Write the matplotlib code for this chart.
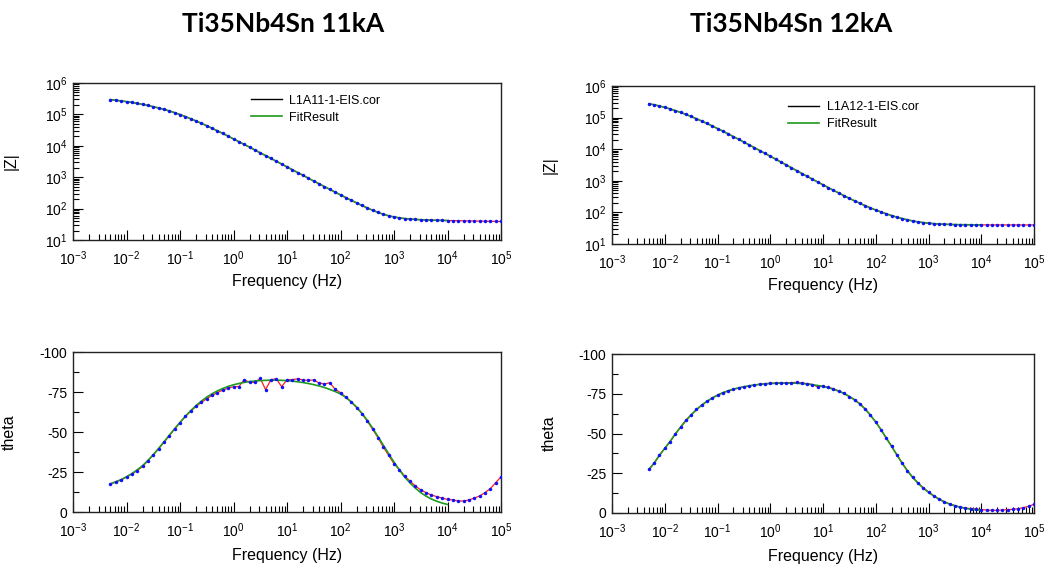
import numpy as np
import matplotlib
matplotlib.use("Agg")
import matplotlib.pyplot as plt
from matplotlib.ticker import LogLocator, FixedLocator, NullFormatter
from matplotlib.lines import Line2D

plt.rcParams['font.family'] = ['Liberation Sans', 'DejaVu Sans']
plt.rcParams['mathtext.fontset'] = 'custom'
plt.rcParams['mathtext.rm'] = 'Liberation Sans'
plt.rcParams['mathtext.it'] = 'Liberation Sans:italic'
plt.rcParams['axes.unicode_minus'] = False

# ---------------------------------------------------------------- data
freq = [
    5.01e-3, 6.31e-3, 7.94e-3,
    1.00e-2, 1.26e-2, 1.58e-2, 2.00e-2, 2.51e-2, 3.16e-2, 3.98e-2, 5.01e-2, 6.31e-2, 7.94e-2,
    1.00e-1, 1.26e-1, 1.58e-1, 2.00e-1, 2.51e-1, 3.16e-1, 3.98e-1, 5.01e-1, 6.31e-1, 7.94e-1,
    1.00e0, 1.26e0, 1.58e0, 2.00e0, 2.51e0, 3.16e0, 3.98e0, 5.01e0, 6.31e0, 7.94e0,
    1.00e1, 1.26e1, 1.58e1, 2.00e1, 2.51e1, 3.16e1, 3.98e1, 5.01e1, 6.31e1, 7.94e1,
    1.00e2, 1.26e2, 1.58e2, 2.00e2, 2.51e2, 3.16e2, 3.98e2, 5.01e2, 6.31e2, 7.94e2,
    1.00e3, 1.26e3, 1.58e3, 2.00e3, 2.51e3, 3.16e3, 3.98e3, 5.01e3, 6.31e3, 7.94e3,
    1.00e4, 1.26e4, 1.58e4, 2.00e4, 2.51e4, 3.16e4, 3.98e4, 5.01e4, 6.31e4, 7.94e4,
    1.00e5,
]

# log10 |Z| (ohm), 11 kA sample
logz_11kA = [
    5.47, 5.45, 5.43,
    5.405, 5.38, 5.35, 5.32, 5.285, 5.245, 5.205, 5.16, 5.11, 5.055,
    4.995, 4.93, 4.862, 4.79, 4.715, 4.638, 4.558, 4.476, 4.392, 4.307,
    4.22, 4.132, 4.044, 3.955, 3.866, 3.777, 3.688, 3.598, 3.508, 3.418,
    3.328, 3.238, 3.148, 3.058, 2.968, 2.878, 2.789, 2.70, 2.612, 2.524,
    2.437, 2.35, 2.265, 2.182, 2.10, 2.022, 1.948, 1.88, 1.82, 1.772,
    1.734, 1.705, 1.683, 1.667, 1.655, 1.646, 1.639, 1.633, 1.628, 1.624,
    1.62, 1.617, 1.614, 1.611, 1.608, 1.605, 1.602, 1.599, 1.596, 1.593,
    1.59,
]

# phase angle (deg), 11 kA sample
phase_11kA = [
    -17.7, -19.0, -20.2,
    -21.9, -23.8, -25.8, -28.5, -32.0, -35.6, -39.6, -43.5, -47.7, -52.0,
    -55.8, -59.8, -63.0, -66.0, -68.5, -70.8, -72.9, -74.6, -76.2, -77.4,
    -78.3, -78.4, -82.7, -81.0, -81.0, -83.5, -76.5, -82.7, -83.3, -78.3,
    -82.7, -82.7, -83.3, -82.5, -82.3, -82.5, -80.6, -80.0, -80.8, -76.7,
    -74.6, -71.7, -68.8, -65.2, -61.5, -56.9, -51.7, -46.5, -40.6, -35.4,
    -30.2, -26.5, -22.5, -19.2, -16.3, -13.8, -12.1, -10.6, -9.6, -8.7,
    -7.9, -7.5, -6.9, -6.9, -7.5, -8.7, -10.0, -12.1, -14.6, -18.3,
    -22.0,
]

# fitted phase (deg), 11 kA sample, 5 mHz .. 10 kHz
phase_fit_11kA = [
    -17.5, -18.8, -20.2,
    -22.0, -24.0, -26.3, -29.0, -32.2, -35.8, -39.7, -43.8, -48.0, -52.0,
    -56.0, -59.8, -63.3, -66.5, -69.3, -71.8, -73.9, -75.7, -77.2, -78.5,
    -79.5, -80.3, -81.0, -81.5, -81.9, -82.1, -82.3, -82.4, -82.4, -82.3,
    -82.1, -81.8, -81.4, -80.9, -80.3, -79.6, -78.8, -77.8, -76.6, -75.3,
    -73.8, -71.6, -68.9, -65.6, -61.7, -57.3, -52.4, -47.2, -41.8, -36.4,
    -31.2, -26.3, -21.9, -18.1, -14.9, -12.1, -9.9, -8.1, -6.7, -5.6,
    -4.7,
]

# log10 |Z| (ohm), 12 kA sample
logz_12kA = [
    5.44, 5.405, 5.367,
    5.323, 5.275, 5.222, 5.164, 5.102, 5.035, 4.965, 4.891, 4.814, 4.735,
    4.654, 4.571, 4.486, 4.40, 4.313, 4.225, 4.137, 4.048, 3.958, 3.868,
    3.777, 3.687, 3.596, 3.505, 3.414, 3.322, 3.231, 3.141, 3.051, 2.962,
    2.873, 2.785, 2.698, 2.612, 2.527, 2.445, 2.365, 2.287, 2.212, 2.142,
    2.076, 2.014, 1.955, 1.90, 1.85, 1.805, 1.765, 1.73, 1.70, 1.677,
    1.658, 1.644, 1.633, 1.625, 1.619, 1.615, 1.612, 1.61, 1.608, 1.607,
    1.606, 1.605, 1.605, 1.604, 1.604, 1.604, 1.604, 1.603, 1.603, 1.603,
    1.603,
]

# phase angle (deg), 12 kA sample
phase_12kA = [
    -27.5, -31.3, -36.4,
    -40.6, -44.8, -49.7, -54.1, -58.4, -61.7, -65.1, -67.9, -70.2, -72.3,
    -74.2, -75.7, -76.7, -77.8, -78.6, -79.3, -79.9, -80.5, -81.0, -81.4,
    -81.6, -81.8, -81.8, -81.9, -82.0, -82.2, -81.8, -81.4, -80.8, -79.3,
    -79.9, -79.0, -78.2, -76.7, -75.3, -73.2, -71.2, -68.8, -65.5, -61.5,
    -57.1, -52.4, -47.1, -41.9, -36.6, -31.3, -26.6, -22.4, -19.0, -15.9,
    -13.3, -10.8, -8.9, -7.0, -5.7, -4.7, -3.8, -3.2, -2.7, -2.5,
    -2.1, -1.9, -1.7, -1.7, -1.9, -2.1, -2.3, -2.7, -3.4, -4.2,
    -5.5,
]

# fitted phase (deg), 12 kA sample, 5 mHz .. 10 kHz
phase_fit_12kA = [
    -27.3, -31.5, -36.3,
    -40.7, -45.0, -49.6, -54.0, -58.0, -61.7, -64.9, -67.8, -70.2, -72.3,
    -74.1, -75.6, -76.8, -77.9, -78.7, -79.4, -80.0, -80.5, -80.9, -81.2,
    -81.4, -81.6, -81.7, -81.7, -81.7, -81.6, -81.4, -81.1, -80.7, -80.2,
    -79.6, -78.8, -77.8, -76.6, -75.1, -73.3, -71.1, -68.5, -65.3, -61.5,
    -57.2, -52.4, -47.2, -41.9, -36.6, -31.4, -26.6, -22.4, -18.8, -15.7,
    -13.0, -10.7, -8.7, -7.0, -5.6, -4.5, -3.6, -2.9, -2.4, -2.0,
    -1.7,
]

# the fitted magnitude coincides with the measured one up to 10 kHz
n_fit = len(phase_fit_11kA)
logz_fit_11kA = logz_11kA[:n_fit]
logz_fit_12kA = logz_12kA[:n_fit]

titles = ["Ti35Nb4Sn 11kA", "Ti35Nb4Sn 12kA"]
data_labels = ["L1A11-1-EIS.cor", "L1A12-1-EIS.cor"]
fit_label = "FitResult"
theta_ticks = [0, -25, -50, -75, -100]

# ---------------------------------------------------------------- style
RED = "#ff2020"
BLUE = "#1010ff"
GREEN = "#1e9a1e"

fig = plt.figure(figsize=(10.54, 5.66), dpi=100)

W, H = 1054.0, 566.0


def px_axes(x0, y0, x1, y1):
    return fig.add_axes([x0 / W, 1 - y1 / H, (x1 - x0) / W, (y1 - y0) / H])


ax_z1 = px_axes(73, 83, 501, 240)
ax_z2 = px_axes(612, 86, 1034, 244)
ax_p1 = px_axes(73, 352, 501, 512)
ax_p2 = px_axes(612, 354, 1034, 513)


def style_freq_axis(ax):
    ax.set_xscale('log')
    ax.set_xlim(1e-3, 1e5)
    ax.xaxis.set_major_locator(LogLocator(base=10, numticks=20))
    ax.xaxis.set_minor_locator(LogLocator(base=10, subs=np.arange(2, 10), numticks=100))
    ax.xaxis.set_minor_formatter(NullFormatter())
    ax.set_xlabel("Frequency (Hz)", fontsize=11.5)
    ax.tick_params(axis='both', which='both', direction='in', top=False, right=False,
                   labelsize=10, width=0.8, colors='black')
    ax.tick_params(axis='both', which='major', length=7, pad=4)
    ax.tick_params(axis='both', which='minor', length=4)
    ax.tick_params(axis='x', which='major', pad=6.5)
    for sp in ax.spines.values():
        sp.set_linewidth(1.0)
        sp.set_color('#222222')


def draw_series(ax, y, yfit):
    ax.plot(freq, y, color=RED, lw=0.9, zorder=2)
    ax.plot(freq[:len(yfit)], yfit, color=GREEN, lw=1.2, zorder=3)
    ax.plot(freq, y, ls='none', marker='o', ms=2.5, mfc=BLUE, mec='none', zorder=4)


panels = [
    (ax_z1, ax_p1, logz_11kA, logz_fit_11kA, phase_11kA, phase_fit_11kA, data_labels[0],
     (0.415, 0.925)),
    (ax_z2, ax_p2, logz_12kA, logz_fit_12kA, phase_12kA, phase_fit_12kA, data_labels[1],
     (0.417, 0.905)),
]

for ax_z, ax_p, logz, logz_fit, ph, ph_fit, lab, leg_pos in panels:
    # impedance magnitude
    style_freq_axis(ax_z)
    ax_z.set_yscale('log')
    ax_z.set_ylim(1e1, 1e6)
    ax_z.yaxis.set_major_locator(LogLocator(base=10, numticks=20))
    ax_z.yaxis.set_minor_locator(LogLocator(base=10, subs=np.arange(2, 10), numticks=100))
    ax_z.yaxis.set_minor_formatter(NullFormatter())
    draw_series(ax_z, np.power(10.0, logz), np.power(10.0, logz_fit))
    ax_z.set_ylabel("|Z|", fontsize=11.5)
    ax_z.yaxis.set_label_coords(-0.128, 0.5)
    ax_z.xaxis.set_label_coords(0.5, -0.215)
    handles = [Line2D([], [], color='black', lw=1.0), Line2D([], [], color=GREEN, lw=1.2)]
    ax_z.legend(handles, [lab, fit_label], loc='upper left', bbox_to_anchor=leg_pos,
                frameon=False, fontsize=9, handlelength=2.5, handletextpad=0.6,
                labelspacing=0.4, borderpad=0, borderaxespad=0)

    # phase angle
    style_freq_axis(ax_p)
    ax_p.set_ylim(0, -100)
    ax_p.yaxis.set_major_locator(FixedLocator(theta_ticks))
    ax_p.yaxis.set_minor_locator(FixedLocator([-12.5, -37.5, -62.5, -87.5]))
    ax_p.set_yticklabels([str(t) for t in theta_ticks])
    draw_series(ax_p, ph, ph_fit)
    ax_p.set_ylabel("theta", fontsize=11.5)
    ax_p.yaxis.set_label_coords(-0.132, 0.5)
    ax_p.xaxis.set_label_coords(0.5, -0.225)

fig.text(283 / W, 1 - 24 / H, titles[0], ha='center', va='center',
         fontsize=19, fontweight='bold', family=['Lato', 'DejaVu Sans'])
fig.text(791 / W, 1 - 24 / H, titles[1], ha='center', va='center',
         fontsize=19, fontweight='bold', family=['Lato', 'DejaVu Sans'])

fig.savefig("out.png", dpi=100)
